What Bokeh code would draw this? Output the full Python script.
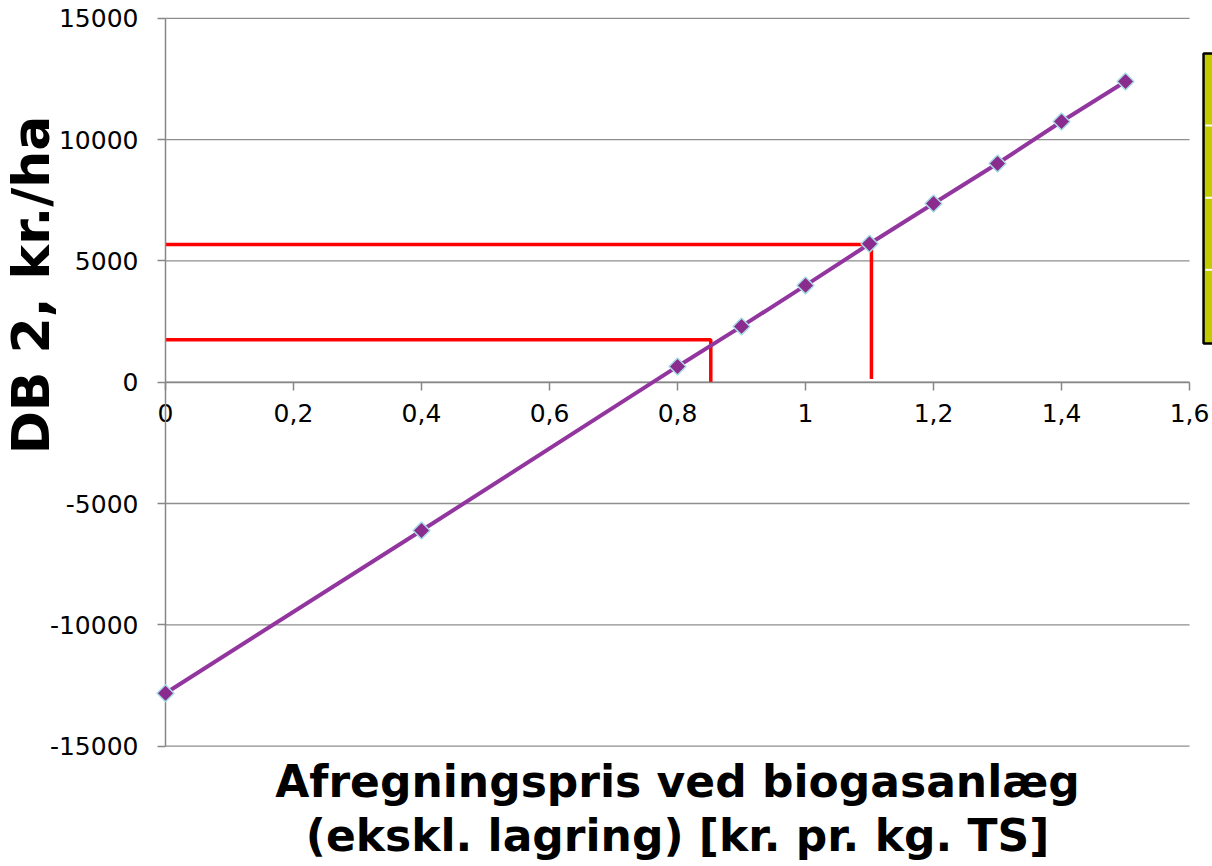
import math
from bokeh.plotting import figure
from bokeh.models import Range1d, FixedTicker, CustomJSTickFormatter, Label
from bokeh.embed import file_html
from bokeh.resources import INLINE

# Data
price = [0, 0.4, 0.8, 0.9, 1.0, 1.1, 1.2, 1.3, 1.4, 1.5]
db2 = [-12820, -6115, 650, 2300, 3990, 5705, 7365, 9015, 10745, 12395]

ref1_x = [0, 0.852, 0.852]
ref1_y = [1750, 1750, 0]
ref2_x = [0, 1.103, 1.103]
ref2_y = [5676, 5676, 130]

x_ticks = [0, 0.2, 0.4, 0.6, 0.8, 1.0, 1.2, 1.4, 1.6]
y_ticks = [-15000, -10000, -5000, 0, 5000, 10000, 15000]
x_bounds = (0, 1.6)
y_bounds = (-15000, 15000)

y_title = "DB 2, kr./ha"
x_title_1 = "Afregningspris ved biogasanlæg"
x_title_2 = "(ekskl. lagring) [kr. pr. kg. TS]"

# legend-like box at right edge (cut off in the original)
box_left, box_right = 1.6219, 1.66
box_top, box_bottom = 13549, 1595
box_seps = [10580, 7600, 4633]

# the frame covers the whole canvas; axes are fixed inside it
p = figure(width=1212, height=866, output_backend="svg", toolbar_location=None,
           x_range=Range1d(-0.2578, 1.6359), y_range=Range1d(-19963, 15734),
           min_border=0)
p.outline_line_color = None
p.background_fill_color = "white"
p.border_fill_color = "white"
p.xgrid.visible = False
p.ygrid.visible = False

AX = "#878787"
# horizontal gridlines across the axis bounds
p.segment(x0=[x_bounds[0]] * len(y_ticks), y0=y_ticks,
          x1=[x_bounds[1]] * len(y_ticks), y1=y_ticks,
          line_color="#8E8E8E", line_width=1.3)

for ax in (p.xaxis[0], p.yaxis[0]):
    ax.axis_line_color = AX
    ax.axis_line_width = 1.5
    ax.major_tick_line_color = AX
    ax.major_tick_line_width = 1.5
    ax.major_tick_out = 8
    ax.major_tick_in = 0
    ax.minor_tick_line_color = None
    ax.major_label_text_font = "DejaVu Sans"
    ax.major_label_text_font_size = "25px"
    ax.major_label_text_color = "black"

p.xaxis.ticker = FixedTicker(ticks=x_ticks)
p.xaxis.formatter = CustomJSTickFormatter(code="return String(Math.round(tick*10)/10).replace('.', ',');")
p.xaxis.fixed_location = 0
p.xaxis.bounds = x_bounds
p.xaxis.major_label_standoff = 14

p.yaxis.ticker = FixedTicker(ticks=y_ticks)
p.yaxis.formatter = CustomJSTickFormatter(code="return tick.toFixed(0);")
p.yaxis.fixed_location = 0
p.yaxis.bounds = y_bounds
p.yaxis.major_label_standoff = 19

# reference lines
p.line(ref1_x, ref1_y, line_color="#FF0000", line_width=3.5)
p.line(ref2_x, ref2_y, line_color="#FF0000", line_width=3.5)

# main series
p.line(price, db2, line_color="#93359F", line_width=4, level="overlay")
p.scatter(price, db2, marker="square", angle=math.pi / 4, size=12,
          fill_color="#8A2B8E", line_color="#A8DCE4", line_width=1.5, level="overlay")

# titles
p.add_layout(Label(x=-0.2109, y=4006, text=y_title, angle=math.pi / 2,
                   text_align="center", text_baseline="alphabetic",
                   text_font="DejaVu Sans", text_font_style="bold",
                   text_font_size="52px", text_color="black"))
p.add_layout(Label(x=0.8, y=-16459, text=x_title_1, text_align="center",
                   text_baseline="alphabetic", text_font="DejaVu Sans",
                   text_font_style="bold", text_font_size="44px", text_color="black"))
p.add_layout(Label(x=0.8, y=-18695, text=x_title_2, text_align="center",
                   text_baseline="alphabetic", text_font="DejaVu Sans",
                   text_font_style="bold", text_font_size="44px", text_color="black"))

# cut-off box at the right edge
p.quad(left=[box_left], right=[box_right], top=[box_top], bottom=[box_bottom],
       fill_color="#C1CB00", line_color="black", line_width=2.5)
p.quad(left=[box_left + 0.003] * len(box_seps), right=[box_right] * len(box_seps),
       top=[s + 40 for s in box_seps], bottom=[s - 40 for s in box_seps],
       fill_color="white", line_color=None)

open("out.html", "w").write(file_html(p, INLINE))
